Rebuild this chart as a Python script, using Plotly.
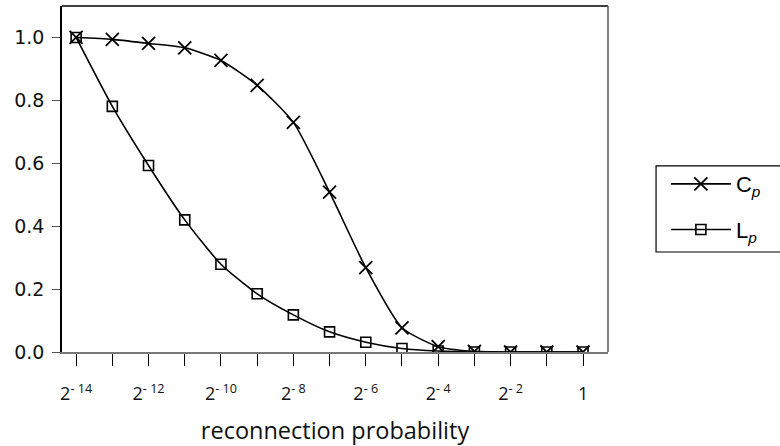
import plotly.graph_objects as go

# reconnection probability as powers of two: 2^-14 ... 2^0
exponents = [-14, -13, -12, -11, -10, -9, -8, -7, -6, -5, -4, -3, -2, -1, 0]
tick_text = ["2<sup>- 14</sup>", "", "2<sup>- 12</sup>", "", "2<sup>- 10</sup>", "",
             "2<sup>- 8</sup>", "", "2<sup>- 6</sup>", "", "2<sup>- 4</sup>", "",
             "2<sup>- 2</sup>", "", "1"]

# normalised clustering coefficient C(p)/C(0)
cp_values = [1.000, 0.994, 0.981, 0.967, 0.927, 0.848, 0.730, 0.508,
             0.268, 0.077, 0.017, 0.002, 0.000, 0.000, 0.000]
# normalised characteristic path length L(p)/L(0)
lp_values = [1.000, 0.781, 0.593, 0.420, 0.279, 0.185, 0.118, 0.064,
             0.031, 0.011, 0.003, 0.000, 0.000, 0.000, 0.000]

num_font = "DejaVu Sans"
text_font = "Open Sans"

fig = go.Figure()
fig.add_trace(go.Scatter(
    x=exponents, y=cp_values, name="C<sub><i>p</i></sub>", legendgroup="cp",
    mode="lines+markers", line=dict(color="black", width=1.6, shape="spline", smoothing=0.6),
    marker=dict(symbol="x-thin", size=13, line=dict(color="black", width=1.8)),
))
fig.add_trace(go.Scatter(
    x=exponents, y=lp_values, name="L<sub><i>p</i></sub>", legendgroup="lp",
    mode="lines+markers", line=dict(color="black", width=1.6, shape="spline", smoothing=0.6),
    marker=dict(symbol="square-open", size=10, color="black", line=dict(color="black", width=1.6)),
))

fig.update_layout(
    width=780, height=446,
    margin=dict(l=62, r=172, t=6, b=94),
    paper_bgcolor="white", plot_bgcolor="white",
    font=dict(family=num_font, color="#111111"),
    showlegend=True,
    legend=dict(
        x=1.106, y=0.546, xanchor="left", yanchor="top",
        bgcolor="rgba(0,0,0,0)", borderwidth=0,
        font=dict(family="Liberation Sans", size=22, color="black"),
        itemwidth=60, tracegroupgap=14,
    ),
    shapes=[
        # frame: top and right edges of the plotting area
        dict(type="line", xref="paper", yref="paper", x0=0, x1=1, y0=1, y1=1,
             line=dict(color="black", width=1.5)),
        dict(type="line", xref="paper", yref="paper", x0=1, x1=1, y0=0, y1=1,
             line=dict(color="#555555", width=1.5)),
        # legend box, open past the right edge of the page
        dict(type="rect", xref="paper", yref="paper", x0=1.088, x1=1.35,
             y0=0.289, y1=0.538, line=dict(color="black", width=1.2)),
    ],
)

fig.update_xaxes(
    range=[-14.39, 0.69],
    tickmode="array", tickvals=exponents, ticktext=tick_text,
    ticks="outside", ticklen=12, tickwidth=1.2, tickcolor="black",
    ticklabelstandoff=13,
    tickfont=dict(family=text_font, size=18, color="#111111"),
    showline=True, linecolor="#777777", linewidth=1.5,
    showgrid=False, zeroline=False, automargin=False,
    title=dict(text="reconnection probability", standoff=22,
               font=dict(family=text_font, size=23.5, color="#111111")),
)
fig.update_yaxes(
    range=[0, 1.1], tickmode="array",
    tickvals=[0.0, 0.2, 0.4, 0.6, 0.8, 1.0],
    tickformat=".1f",
    ticks="outside", ticklen=8, tickwidth=1, tickcolor="#555555",
    ticklabelstandoff=4,
    tickfont=dict(family=num_font, size=19, color="#111111"),
    showline=True, linecolor="black", linewidth=1.5,
    showgrid=False, zeroline=False, automargin=False,
)

fig.write_html("out.html")
